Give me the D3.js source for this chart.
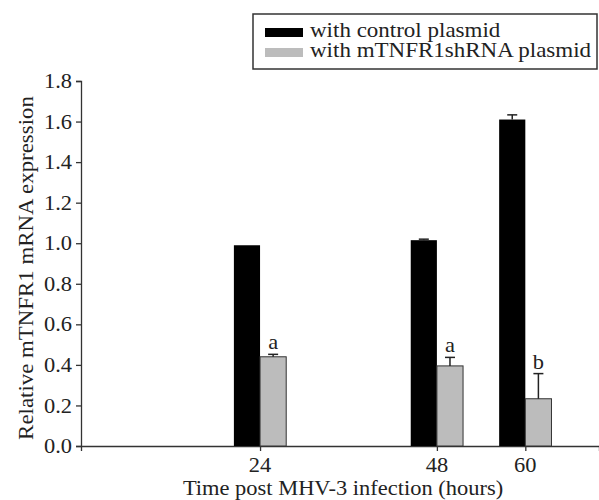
<!DOCTYPE html>
<html lang="en">
<head>
<meta charset="UTF-8">
<script src="https://cdn.jsdelivr.net/npm/d3@7"></script>
</head>
<body style="margin:0">
<script>
// hours post infection
const hours = [24, 48, 60];
const control = [0.99, 1.015, 1.61];
const controlErr = [0.0, 0.005, 0.023];
const shrna = [0.44, 0.395, 0.233];
const shrnaErr = [0.012, 0.042, 0.124];
const sigLabels = ["a", "a", "b"];
const yTicks = [0, 0.2, 0.4, 0.6, 0.8, 1.0, 1.2, 1.4, 1.6, 1.8];
const seriesNames = ["with control plasmid", "with mTNFR1shRNA plasmid"];
const colors = ["#000", "#bcbcbc"];

const FONT = "'Liberation Serif', 'Times New Roman', serif";
const width = 599, height = 500;
const margin = { top: 81, right: 0, bottom: 54, left: 81 };

const svg = d3.select("body").append("svg")
  .attr("width", width)
  .attr("height", height);

// time is on a linear scale, not a band scale
const x = d3.scaleLinear().domain([-0.3, 70]).range([margin.left, width - margin.right]);
const y = d3.scaleLinear().domain([0, 1.8]).range([height - margin.bottom, margin.top]);
const barW = x(3.55) - x(0);

// plain serif label, stretched sideways a little like the original figure
function label(px, py, str, opts = {}) {
  const sx = opts.sx || 1.07;
  const t = svg.append("text")
    .attr("transform", `translate(${px},${py})${opts.rotate ? " rotate(-90)" : ""} scale(${sx},1)`)
    .style("font-family", FONT)
    .style("font-size", (opts.size || 21) + "px")
    .attr("fill", "#222")
    .attr("text-anchor", opts.anchor || "start")
    .text(str);
  if (opts.dy) t.attr("dy", opts.dy);
  return t;
}

// axis lines and ticks from d3, labels drawn by hand
const yAxis = svg.append("g")
  .attr("transform", `translate(${margin.left},0)`)
  .call(d3.axisLeft(y).tickValues(yTicks).tickSize(5).tickFormat(""));
const xAxis = svg.append("g")
  .attr("transform", `translate(0,${y(0)})`)
  .call(d3.axisBottom(x).tickValues(hours).tickSize(5).tickFormat(""));
svg.selectAll(".domain, .tick line").attr("stroke", "#333").attr("stroke-width", 1.3);
svg.selectAll(".tick text").remove();

yTicks.forEach((v) => label(margin.left - 9, y(v), d3.format(".1f")(v), { anchor: "end", dy: "0.34em" }));
hours.forEach((h) => label(x(h), y(0) + 26, String(h), { anchor: "middle" }));

// bars - control sits left of the tick, shRNA right of it
svg.append("g").selectAll("rect")
  .data(hours)
  .join("rect")
  .attr("x", (d) => x(d) - barW)
  .attr("y", (d, i) => y(control[i]))
  .attr("width", barW)
  .attr("height", (d, i) => y(0) - y(control[i]))
  .attr("fill", colors[0]);

svg.append("g").selectAll("rect")
  .data(hours)
  .join("rect")
  .attr("x", (d) => x(d))
  .attr("y", (d, i) => y(shrna[i]))
  .attr("width", barW)
  .attr("height", (d, i) => y(0) - y(shrna[i]))
  .attr("fill", colors[1])
  .attr("stroke", "#333")
  .attr("stroke-width", 1);

// error bars (upper only)
function errBars(vals, errs, offset) {
  const g = svg.append("g").attr("stroke", "#222").attr("stroke-width", 1.5);
  hours.forEach((h, i) => {
    if (errs[i] <= 0) return;
    const cx = x(h) + offset;
    g.append("line").attr("x1", cx).attr("x2", cx).attr("y1", y(vals[i])).attr("y2", y(vals[i] + errs[i]));
    g.append("line").attr("x1", cx - 5).attr("x2", cx + 5).attr("y1", y(vals[i] + errs[i])).attr("y2", y(vals[i] + errs[i]));
  });
}
errBars(control, controlErr, -barW / 2);
errBars(shrna, shrnaErr, barW / 2);

// significance letters
hours.forEach((h, i) => label(x(h) + barW / 2, y(shrna[i] + shrnaErr[i]) - 5, sigLabels[i], { anchor: "middle" }));

// axis titles
label(343, 495, "Time post MHV-3 infection (hours)", { anchor: "middle" });
label(33, 268, "Relative mTNFR1 mRNA expression", { anchor: "middle", rotate: true, sx: 1.09 });

// legend
svg.append("rect")
  .attr("x", 253).attr("y", 14)
  .attr("width", 344).attr("height", 55)
  .attr("fill", "#fff").attr("stroke", "#333").attr("stroke-width", 1.5);
seriesNames.forEach((name, i) => {
  svg.append("rect")
    .attr("x", 265).attr("y", 28 + i * 20)
    .attr("width", 38).attr("height", 9)
    .attr("fill", colors[i]);
  label(310, 37 + i * 20, name, { size: 20, sx: 1.15 });
});
</script>
</body>
</html>
